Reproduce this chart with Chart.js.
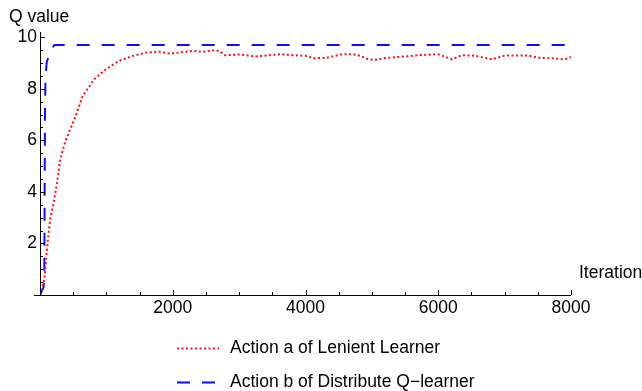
<!DOCTYPE html>
<html>
<head>
<meta charset="utf-8">
<script src="https://cdn.jsdelivr.net/npm/chart.js@4/dist/chart.umd.min.js"></script>
<style>
  html, body { margin: 0; padding: 0; background: #fff; }
  #wrap { position: relative; width: 642px; height: 391px; }
</style>
</head>
<body>
<div id="wrap"><canvas id="q-chart" width="642" height="391"></canvas></div>
<script>
const FONT = '"Liberation Sans", Arial, Helvetica, sans-serif';
const FONT_SIZE = 17.5;

// Lenient learner, action a
const lenientIter = [0, 15, 65, 105, 150, 215, 260, 301, 340, 387, 450, 532, 643, 720, 818, 994, 1190, 1397, 1597, 1793,
  1959, 2150, 2305, 2456, 2637, 2712, 2787, 3013, 3239, 3465, 3616, 3812, 4023, 4113, 4324, 4550, 4700, 4821, 4942,
  5047, 5198, 5499, 5695, 5996, 6207, 6358, 6554, 6810, 7006, 7352, 7503, 7714, 7910, 8000];
const lenientQ = [0, 0.1, 0.6, 1.77, 2.9, 3.7, 4.4, 5.2, 5.6, 6.0, 6.4, 6.9, 7.72, 8.0, 8.37, 8.76, 9.08, 9.27, 9.4, 9.44,
  9.36, 9.42, 9.47, 9.43, 9.5, 9.45, 9.3, 9.33, 9.25, 9.3, 9.34, 9.3, 9.27, 9.18, 9.2, 9.34, 9.34, 9.28, 9.14,
  9.12, 9.19, 9.25, 9.3, 9.34, 9.14, 9.3, 9.28, 9.14, 9.29, 9.29, 9.2, 9.18, 9.14, 9.23];

// Distribute Q-learner, action b
const distIter = [0, 55, 65, 70, 75, 82, 100, 150, 215, 240, 8000];
const distQ = [0, 0.3, 1.0, 4.0, 7.0, 8.4, 9.0, 9.46, 9.69, 9.7, 9.7];

const xMajor = [2000, 4000, 6000, 8000];
const yMajor = [2, 4, 6, 8, 10];
const xMinorStep = 500;
const yMinorStep = 0.5;

const toPoints = (xs, ys) => xs.map((x, i) => ({ x, y: ys[i] }));

const axesPlugin = {
  id: 'mmaAxes',
  afterDraw(chart) {
    const { ctx, chartArea } = chart;
    const xs = chart.scales.x;
    const ys = chart.scales.y;
    const x0 = xs.getPixelForValue(0);
    const y0 = ys.getPixelForValue(0);

    ctx.save();
    ctx.strokeStyle = '#000';
    ctx.lineWidth = 1;
    ctx.beginPath();
    ctx.moveTo(x0 - 6, y0 + 0.5);
    ctx.lineTo(xs.getPixelForValue(8000), y0 + 0.5);
    ctx.moveTo(x0 + 0.5, y0);
    ctx.lineTo(x0 + 0.5, chartArea.top);

    // ticks point into the plot
    for (let v = xMinorStep; v <= 8000; v += xMinorStep) {
      const px = Math.round(xs.getPixelForValue(v)) + 0.5;
      const len = v % 2000 === 0 ? 5 : 3;
      ctx.moveTo(px, y0);
      ctx.lineTo(px, y0 - len);
    }
    for (let v = yMinorStep; v <= 10; v += yMinorStep) {
      const py = Math.round(ys.getPixelForValue(v)) + 0.5;
      const len = v % 2 === 0 ? 5 : 3;
      ctx.moveTo(x0, py);
      ctx.lineTo(x0 + len, py);
    }
    ctx.stroke();

    ctx.fillStyle = '#000';
    ctx.font = `${FONT_SIZE}px ${FONT}`;
    ctx.textBaseline = 'alphabetic';
    ctx.textAlign = 'left';
    ctx.fillText('Q value', 9, 22);
    ctx.fillText('Iteration', 579, 278);

    // legend, one row per dataset
    const rows = [348, 382];
    chart.data.datasets.forEach((ds, i) => {
      const y = rows[i] + 0.5;
      ctx.save();
      ctx.strokeStyle = ds.borderColor;
      ctx.lineWidth = ds.borderWidth;
      ctx.setLineDash(ds.borderDash);
      ctx.beginPath();
      ctx.moveTo(177, y);
      ctx.lineTo(i === 0 ? 219 : 216, y);
      ctx.stroke();
      ctx.restore();
      ctx.textBaseline = 'middle';
      ctx.fillText(ds.label, 230, rows[i]);
    });
    ctx.restore();
  }
};

new Chart(document.getElementById('q-chart').getContext('2d'), {
  type: 'line',
  data: {
    datasets: [
      {
        label: 'Action a of Lenient Learner',
        data: toPoints(lenientIter, lenientQ),
        borderColor: '#ff0d0d',
        borderWidth: 2,
        borderDash: [2, 2.5],
        pointRadius: 0,
        tension: 0,
        fill: false,
      },
      {
        label: 'Action b of Distribute Q\u2212learner',
        data: toPoints(distIter, distQ),
        borderColor: '#0d0dff',
        borderWidth: 2,
        borderDash: [13, 12],
        pointRadius: 0,
        tension: 0,
        fill: false,
      },
    ],
  },
  options: {
    responsive: false,
    animation: false,
    events: [],
    layout: { padding: { left: 0, top: 32, right: 71, bottom: 66 } },
    plugins: { legend: { display: false }, tooltip: { enabled: false } },
    scales: {
      x: {
        type: 'linear',
        min: 0,
        max: 8000,
        grid: { display: false, drawTicks: false },
        border: { display: false },
        afterBuildTicks: (scale) => { scale.ticks = xMajor.map((value) => ({ value })); },
        afterFit: (scale) => { scale.height = 30; },
        ticks: {
          color: '#000',
          font: { family: FONT, size: FONT_SIZE },
          padding: 3,
          maxRotation: 0,
          callback: (v) => String(v),
        },
      },
      y: {
        type: 'linear',
        min: 0,
        max: 10.2,
        grid: { display: false, drawTicks: false },
        border: { display: false },
        afterBuildTicks: (scale) => { scale.ticks = yMajor.map((value) => ({ value })); },
        afterFit: (scale) => { scale.width = 40; },
        ticks: { color: '#000', font: { family: FONT, size: FONT_SIZE }, padding: 3, callback: (v) => String(v) },
      },
    },
  },
  plugins: [axesPlugin],
});
</script>
</body>
</html>
